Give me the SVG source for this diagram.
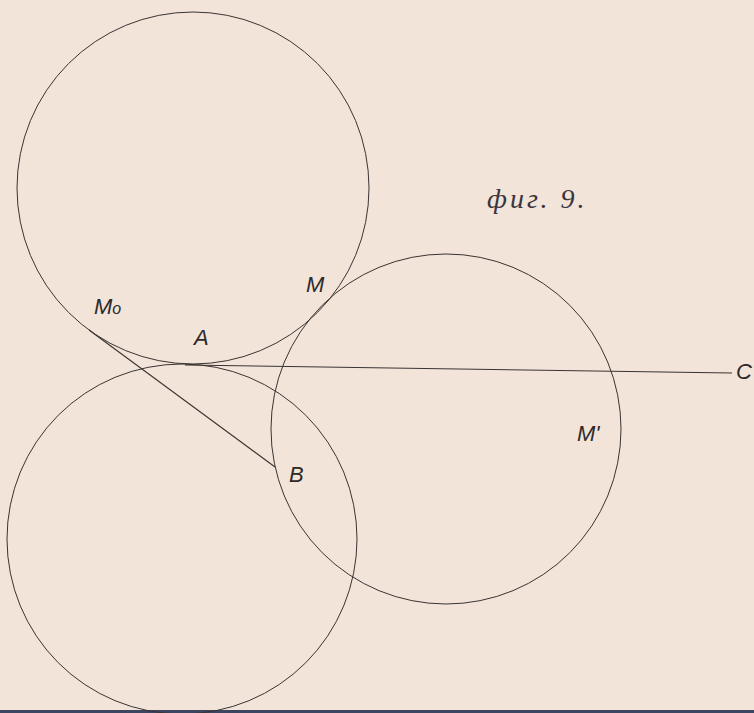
<svg xmlns="http://www.w3.org/2000/svg" width="754" height="713" viewBox="0 0 754 713">
<style>
.c{fill:none;stroke:#3a3433;stroke-width:1}
.l{fill:none;stroke:#3a3433;stroke-width:1.1}
.lab{font-family:"Liberation Sans",Arial,sans-serif;font-style:italic;fill:#2e2a2a;font-size:22px}
.title{font-family:"Liberation Serif","Times New Roman",serif;font-style:italic;fill:#3a3540;font-size:28px;letter-spacing:3px}
</style>
<rect width="754" height="713" fill="#f2e4d8"/>
<rect x="0" y="710" width="754" height="3" fill="#3c4660"/>
<g id="circle-top"><circle class="c" cx="193" cy="188" r="176"/></g>
<g id="circle-bottom"><circle class="c" cx="182" cy="539" r="175"/></g>
<g id="circle-right"><circle class="c" cx="446" cy="429" r="175"/></g>
<g id="connectors">
<line class="l" x1="89" y1="330" x2="275" y2="467"/>
<line class="l" x1="185" y1="365" x2="732" y2="373"/>
</g>
<g id="labels">
<text class="lab" x="94" y="314">M<tspan font-size="16">o</tspan></text>
<text class="lab" x="306" y="292">M</text>
<text class="lab" x="194" y="345">A</text>
<text class="lab" x="289" y="482">B</text>
<text class="lab" x="577" y="441">M'</text>
<text class="lab" x="736" y="379">C</text>
<text class="title" x="487" y="208">фиг. 9.</text>
</g>
</svg>
